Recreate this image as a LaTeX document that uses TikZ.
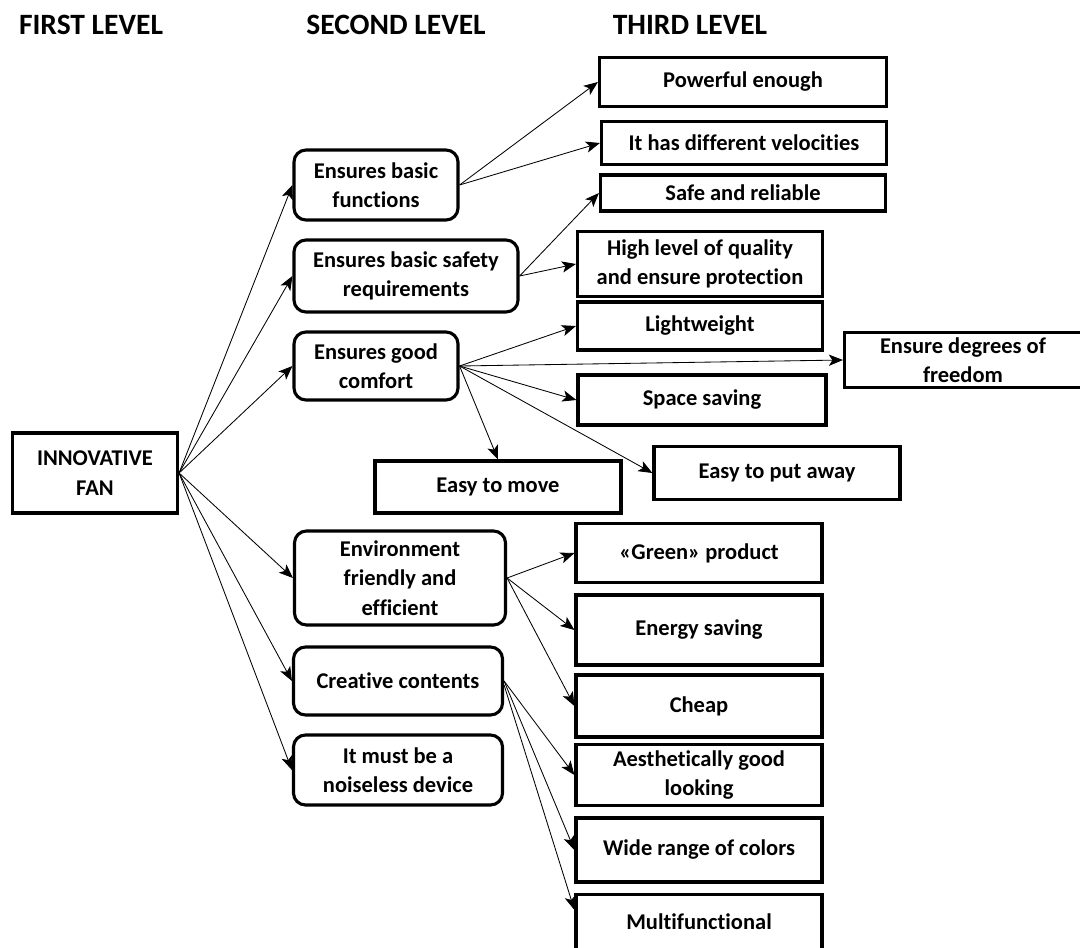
\documentclass[tikz,border=0pt]{standalone}
\usepackage{fontspec}
\setmainfont{Carlito}[Ligatures=NoCommon]
\usepackage{tikz}
\usetikzlibrary{arrows.meta}
\tikzstyle{arrow} = [line width=0.6pt,-{Stealth[length=10pt,width=8pt,inset=2.5pt]}]
\tikzstyle{level} = [rectangle, draw, line width=2.2pt, align=center, inner sep=0pt]
\tikzstyle{rlevel} = [level, rounded corners=0.3cm]
\tikzstyle{head} = [font=\fontsize{21}{25}\selectfont\bfseries]

\begin{document}
\begin{tikzpicture}[x=0.025cm, y=-0.025cm, every node/.style={font=\fontsize{16}{21}\selectfont\bfseries}]
\useasboundingbox (0,0) rectangle (1080,948);

\node [head] (h1) at (91,25) {FIRST LEVEL};
\node [head] (h2) at (396,25) {SECOND LEVEL};
\node [head] (h3) at (690,25) {THIRD LEVEL};

\node [level, minimum width=4.125cm, minimum height=2cm] (a) at (95,473) {INNOVATIVE\\FAN};

\node [rlevel, minimum width=4.1cm, minimum height=1.75cm] (a1) at (376,185) {Ensures basic\\functions};
\node [rlevel, minimum width=5.6cm, minimum height=1.8cm] (a2) at (406,276) {Ensures basic safety\\requirements};
\node [rlevel, minimum width=4.1cm, minimum height=1.7cm] (a3) at (376,366) {Ensures good\\comfort};
\node [rlevel, minimum width=5.275cm, minimum height=2.35cm] (a4) at (400,578) {Environment\\friendly and\\efficient};
\node [rlevel, minimum width=5.225cm, minimum height=1.7cm] (a5) at (398,681) {Creative contents};
\node [rlevel, minimum width=5.225cm, minimum height=1.75cm] (a6) at (398,770) {It must be a\\noiseless device};

\node [level, minimum width=7.175cm, minimum height=1.225cm] (a11) at (743,82) {Powerful enough};
\node [level, minimum width=7.125cm, minimum height=1.075cm] (a12) at (744,143) {It has different velocities};
\node [level, minimum width=7.125cm, minimum height=0.9cm] (a21) at (743,193) {Safe and reliable};
\node [level, minimum width=6.125cm, minimum height=1.625cm] (a22) at (700,264) {High level of quality\\and ensure protection};
\node [level, minimum width=6.125cm, minimum height=1.2cm] (a31) at (700,326) {Lightweight};
\node [level, minimum width=5.925cm, minimum height=1.375cm] (a32) at (963,360) {Ensure degrees of\\freedom};
\node [level, minimum width=6.2cm, minimum height=1.25cm] (a33) at (702,400) {Space saving};
\node [level, minimum width=6.15cm, minimum height=1.325cm] (a34) at (777,473) {Easy to put away};
\node [level, minimum width=6.15cm, minimum height=1.3cm] (a35) at (498,487) {Easy to move};
\node [level, minimum width=6.15cm, minimum height=1.475cm] (a41) at (699,553) {«Green» product};
\node [level, minimum width=6.15cm, minimum height=1.75cm] (a42) at (699,630) {Energy saving};
\node [level, minimum width=6.15cm, minimum height=1.55cm] (a43) at (699,706) {Cheap};
\node [level, minimum width=6.15cm, minimum height=1.525cm] (a51) at (699,775) {Aesthetically good\\looking};
\node [level, minimum width=6.15cm, minimum height=1.6cm] (a52) at (699,850) {Wide range of colors};
\node [level, minimum width=6.15cm, minimum height=1.375cm] (a53) at (699,922) {Multifunctional};

\draw [arrow] (a.east) to (a1.west);
\draw [arrow] (a.east) to (a2.west);
\draw [arrow] (a.east) to (a3.west);
\draw [arrow] (a.east) to (a4.west);
\draw [arrow] (a.east) to (a5.west);
\draw [arrow] (a.east) to (a6.west);

\draw [arrow] (a1.east) to (a11.west);
\draw [arrow] (a1.east) to (a12.west);

\draw [arrow] (a2.east) to (a21.west);
\draw [arrow] (a2.east) to (a22.west);

\draw [arrow] (a3.east) to (a31.west);
\draw [arrow] (a3.east) to (a32.west);
\draw [arrow] (a3.east) to (a33.west);
\draw [arrow] (a3.east) to (a34.west);
\draw [arrow] (a3.east) to (a35.north);

\draw [arrow] (a4.east) to (a41.west);
\draw [arrow] (a4.east) to (a42.west);
\draw [arrow] (a4.east) to (a43.west);

\draw [arrow] (a5.east) to (a51.west);
\draw [arrow] (a5.east) to (a52.west);
\draw [arrow] ([yshift=-0.1cm]a5.east) to ([yshift=0.3cm]a53.west);
\end{tikzpicture}
\end{document}
